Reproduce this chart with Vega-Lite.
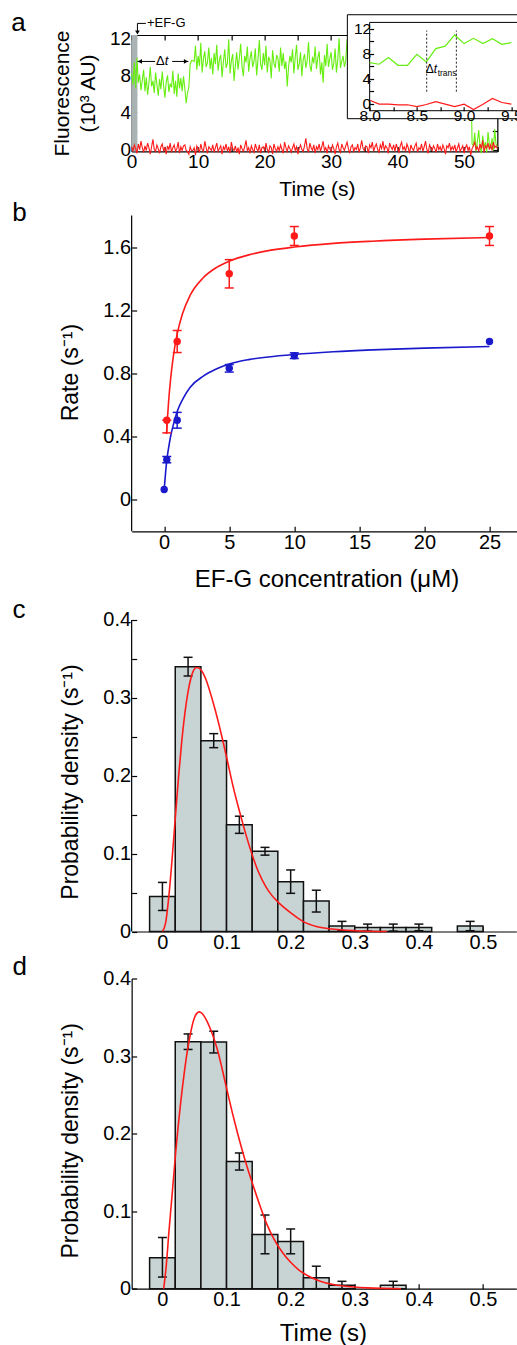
{
"$schema":"https://vega.github.io/schema/vega-lite/v6.json",
"background":"white",
"padding":{"left":10.65,"top":9,"right":0,"bottom":0},
"autosize":{"type":"pad"},
"config":{
 "font":"Liberation Sans",
 "view":{"stroke":null},
 "axis":{"grid":false,"labelFont":"Liberation Sans","titleFont":"Liberation Sans","labelColor":"black","titleColor":"black","tickColor":"black","domainColor":"black","domainWidth":1.2,"tickWidth":1.2,"tickSize":-5,"labelPadding":6,"labelFlush":false,"labelOverlap":false,"labelFontSize":20,"titleFontSize":23,"titleFontWeight":"normal","titleBaseline":"alphabetic"},
 "text":{"font":"Liberation Sans","color":"black"}
},
"datasets":{
"trace":[
{"t":0,"g":8.2,"r":0.3},{"t":0.2,"g":7,"r":-0.2},{"t":0.4,"g":9.4,"r":0.5},{"t":0.6,"g":6.6,"r":0.1},{"t":0.8,"g":9.9,"r":-0.4},{"t":1,"g":7.2,"r":0.6},{"t":1.2,"g":8.1,"r":0},{"t":1.4,"g":6.4,"r":0.9},{"t":1.6,"g":7.5,"r":0.2},{"t":1.8,"g":8.6,"r":-0.3},
{"t":2,"g":6.3,"r":0.4},{"t":2.2,"g":7.8,"r":-0.1},{"t":2.4,"g":5.9,"r":0.7},{"t":2.6,"g":7.2,"r":0.2},{"t":2.8,"g":8.9,"r":-0.5},{"t":3,"g":6.8,"r":0.3},{"t":3.2,"g":7.4,"r":1.1},{"t":3.4,"g":6.1,"r":0},{"t":3.6,"g":8.3,"r":-0.2},{"t":3.8,"g":7,"r":0.5},
{"t":4,"g":5.8,"r":0.1},{"t":4.2,"g":7.6,"r":-0.4},{"t":4.4,"g":6.5,"r":0.3},{"t":4.6,"g":8.4,"r":0.6},{"t":4.8,"g":6.9,"r":-0.1},{"t":5,"g":5.6,"r":0.2},{"t":5.2,"g":7.3,"r":-0.5},{"t":5.4,"g":8,"r":0.4},{"t":5.6,"g":6.2,"r":0},{"t":5.8,"g":7.1,"r":0.7},
{"t":6,"g":6.7,"r":-0.3},{"t":6.2,"g":8.5,"r":0.2},{"t":6.4,"g":6,"r":0.5},{"t":6.6,"g":7.4,"r":-0.2},{"t":6.8,"g":5.7,"r":0.1},{"t":7,"g":8.2,"r":0.8},{"t":7.2,"g":6.6,"r":-0.4},{"t":7.4,"g":7.7,"r":0.3},{"t":7.6,"g":6.3,"r":-0.1},{"t":7.8,"g":7.9,"r":0.4},
{"t":8,"g":6.6,"r":0.5},{"t":8.2,"g":5,"r":-0.1},{"t":8.4,"g":6.1,"r":-0.2},{"t":8.6,"g":6.7,"r":-0.5},{"t":8.8,"g":9.2,"r":0.3},{"t":9,"g":9.6,"r":-0.1},{"t":9.2,"g":9.6,"r":-0.1},{"t":9.4,"g":9.5,"r":0.2},{"t":9.6,"g":11.2,"r":-0.6},{"t":9.8,"g":8.6,"r":0.4},
{"t":10,"g":10.1,"r":0.1},{"t":10.2,"g":9,"r":-0.3},{"t":10.4,"g":11.5,"r":0.6},{"t":10.6,"g":8.3,"r":0},{"t":10.8,"g":9.8,"r":-0.2},{"t":11,"g":10.6,"r":0.9},{"t":11.2,"g":8.9,"r":0.2},{"t":11.4,"g":9.4,"r":-0.4},{"t":11.6,"g":11,"r":0.3},{"t":11.8,"g":8.7,"r":0.1},
{"t":12,"g":9.9,"r":-0.1},{"t":12.2,"g":8.1,"r":0.5},{"t":12.4,"g":10.4,"r":-0.3},{"t":12.6,"g":9.2,"r":0.2},{"t":12.8,"g":11.3,"r":0.7},{"t":13,"g":8.5,"r":-0.2},{"t":13.2,"g":9.7,"r":0.1},{"t":13.4,"g":10.2,"r":0.4},{"t":13.6,"g":7.8,"r":-0.5},{"t":13.8,"g":9.5,"r":0.3},
{"t":14,"g":10.8,"r":0},{"t":14.2,"g":8.8,"r":0.6},{"t":14.4,"g":9.3,"r":-0.2},{"t":14.6,"g":11.9,"r":0.3},{"t":14.8,"g":8.2,"r":-0.4},{"t":15,"g":9.6,"r":0.8},{"t":15.2,"g":10.3,"r":0.1},{"t":15.4,"g":7.4,"r":-0.1},{"t":15.6,"g":9.1,"r":0.4},{"t":15.8,"g":10.5,"r":-0.3},
{"t":16,"g":8.6,"r":0.2},{"t":16.2,"g":9.9,"r":-0.5},{"t":16.4,"g":11.4,"r":0.5},{"t":16.6,"g":9,"r":0.1},{"t":16.8,"g":7.9,"r":-0.2},{"t":17,"g":10.1,"r":0.3},{"t":17.2,"g":9.4,"r":1},{"t":17.4,"g":11.1,"r":-0.1},{"t":17.6,"g":8.4,"r":0.2},{"t":17.8,"g":9.8,"r":-0.4},
{"t":18,"g":10.6,"r":0.4},{"t":18.2,"g":8.9,"r":0},{"t":18.4,"g":9.5,"r":-0.3},{"t":18.6,"g":10.9,"r":0.6},{"t":18.8,"g":8,"r":0.1},{"t":19,"g":9.7,"r":-0.2},{"t":19.2,"g":11.8,"r":0.5},{"t":19.4,"g":9.2,"r":-0.4},{"t":19.6,"g":8.6,"r":0.2},{"t":19.8,"g":10.4,"r":0.3},
{"t":20,"g":9.1,"r":-0.1},{"t":20.2,"g":11.2,"r":0.7},{"t":20.4,"g":8.3,"r":0},{"t":20.6,"g":10,"r":-0.3},{"t":20.8,"g":9.6,"r":0.4},{"t":21,"g":7.7,"r":0.2},{"t":21.2,"g":10.7,"r":-0.5},{"t":21.4,"g":9.3,"r":0.6},{"t":21.6,"g":8.8,"r":0.1},{"t":21.8,"g":10.2,"r":-0.2},
{"t":22,"g":9.8,"r":0.3},{"t":22.2,"g":8.4,"r":-0.1},{"t":22.4,"g":11,"r":0.5},{"t":22.6,"g":9,"r":0},{"t":22.8,"g":10.4,"r":-0.4},{"t":23,"g":8.7,"r":0.8},{"t":23.2,"g":9.5,"r":0.2},{"t":23.4,"g":6.8,"r":-0.2},{"t":23.6,"g":8.9,"r":0.4},{"t":23.8,"g":10.1,"r":0.1},
{"t":24,"g":9.4,"r":-0.3},{"t":24.2,"g":10.8,"r":0.2},{"t":24.4,"g":8.2,"r":0.6},{"t":24.6,"g":9.9,"r":-0.1},{"t":24.8,"g":11.3,"r":0.3},{"t":25,"g":8.6,"r":-0.5},{"t":25.2,"g":9.2,"r":0.1},{"t":25.4,"g":10.5,"r":0.5},{"t":25.6,"g":7.9,"r":0},{"t":25.8,"g":9.7,"r":-0.2},
{"t":26,"g":10.3,"r":0.4},{"t":26.2,"g":8.8,"r":1.2},{"t":26.4,"g":9.6,"r":0.1},{"t":26.6,"g":11.6,"r":-0.3},{"t":26.8,"g":9.1,"r":0.7},{"t":27,"g":8.4,"r":0.2},{"t":27.2,"g":10,"r":-0.1},{"t":27.4,"g":9.3,"r":0.5},{"t":27.6,"g":11.1,"r":-0.4},{"t":27.8,"g":8.7,"r":0.3},
{"t":28,"g":9.9,"r":0},{"t":28.2,"g":10.6,"r":0.6},{"t":28.4,"g":8.1,"r":-0.2},{"t":28.6,"g":9.4,"r":0.3},{"t":28.8,"g":7.2,"r":0.9},{"t":29,"g":10.2,"r":-0.1},{"t":29.2,"g":9,"r":0.2},{"t":29.4,"g":11.4,"r":-0.4},{"t":29.6,"g":8.9,"r":0.4},{"t":29.8,"g":9.8,"r":0.1},
{"t":30,"g":10.5,"r":-0.2},{"t":30.2,"g":8.6,"r":0.5},{"t":30.4,"g":9.3,"r":0.1},{"t":30.6,"g":10.9,"r":-0.5},{"t":30.8,"g":8.3,"r":0.3},{"t":31,"g":9.7,"r":0.7},{"t":31.2,"g":12,"r":0},{"t":31.4,"g":8.8,"r":-0.3},{"t":31.6,"g":9.5,"r":0.6},{"t":31.8,"g":10.1,"r":0.2},
{"t":32,"g":8.9,"r":-0.1},{"t":32.2,"g":9.6,"r":0.4},{"t":32.4,"g":11.9,"r":0.8},{"t":32.6,"g":8.4,"r":0.1},{"t":32.8,"g":10.3,"r":-0.4},{"t":33,"g":9.2,"r":0.3},{"t":33.2,"g":8.7,"r":0.5},{"t":33.4,"g":10.6,"r":-0.2},{"t":33.6,"g":9.4,"r":0.2},{"t":33.8,"g":9,"r":0},
{"t":34,"g":9.7,"r":0.6},{"t":34.2,"g":10.4,"r":-0.3},{"t":34.4,"g":8.5,"r":0.2},{"t":34.6,"g":9.1,"r":1},{"t":34.8,"g":11,"r":0.1},{"t":35,"g":8.8,"r":-0.1},{"t":35.2,"g":9.6,"r":0.4},{"t":35.4,"g":10.2,"r":0.3},{"t":35.6,"g":8.3,"r":-0.4},{"t":35.8,"g":9.9,"r":0.5},
{"t":36,"g":10.7,"r":0.2},{"t":36.2,"g":9,"r":0.8},{"t":36.4,"g":8.6,"r":-0.2},{"t":36.6,"g":10.1,"r":0.3},{"t":36.8,"g":9.4,"r":0.6},{"t":37,"g":11.2,"r":0},{"t":37.2,"g":8.9,"r":-0.3},{"t":37.4,"g":9.5,"r":0.5},{"t":37.6,"g":10.3,"r":0.1},{"t":37.8,"g":8.2,"r":0.9},
{"t":38,"g":9.8,"r":-0.1},{"t":38.2,"g":10.9,"r":0.4},{"t":38.4,"g":8.7,"r":0.2},{"t":38.6,"g":9.3,"r":-0.4},{"t":38.8,"g":10.5,"r":0.7},{"t":39,"g":8.4,"r":0.3},{"t":39.2,"g":9.9,"r":0},{"t":39.4,"g":11.1,"r":0.5},{"t":39.6,"g":9.2,"r":-0.2},{"t":39.8,"g":8.8,"r":0.6},
{"t":40,"g":10.2,"r":0.1},{"t":40.2,"g":9.5,"r":-0.3},{"t":40.4,"g":8.1,"r":0.4},{"t":40.6,"g":10.8,"r":0.8},{"t":40.8,"g":9,"r":0},{"t":41,"g":9.7,"r":0.3},{"t":41.2,"g":11.3,"r":-0.2},{"t":41.4,"g":8.6,"r":0.6},{"t":41.6,"g":9.4,"r":0.2},{"t":41.8,"g":10,"r":-0.4},
{"t":42,"g":8.9,"r":0.5},{"t":42.2,"g":10.6,"r":0.1},{"t":42.4,"g":9.3,"r":-0.1},{"t":42.6,"g":8.5,"r":0.4},{"t":42.8,"g":10.1,"r":0.7},{"t":43,"g":9.8,"r":-0.3},{"t":43.2,"g":11.5,"r":0.2},{"t":43.4,"g":8.7,"r":0},{"t":43.6,"g":9.2,"r":0.6},{"t":43.8,"g":10.4,"r":-0.2},
{"t":44,"g":9.6,"r":0.3},{"t":44.2,"g":8.3,"r":0.9},{"t":44.4,"g":10.7,"r":0},{"t":44.6,"g":9.1,"r":-0.4},{"t":44.8,"g":9.9,"r":0.5},{"t":45,"g":11,"r":0.2},{"t":45.2,"g":8.8,"r":-0.1},{"t":45.4,"g":9.4,"r":0.4},{"t":45.6,"g":10.3,"r":0.1},{"t":45.8,"g":8.6,"r":-0.3},
{"t":46,"g":10,"r":0.6},{"t":46.2,"g":9.2,"r":0},{"t":46.4,"g":11.4,"r":0.3},{"t":46.6,"g":8.4,"r":-0.2},{"t":46.8,"g":9.7,"r":0.5},{"t":47,"g":10.5,"r":0.1},{"t":47.2,"g":9,"r":-0.5},{"t":47.4,"g":8.7,"r":0.4},{"t":47.6,"g":10.9,"r":0.2},{"t":47.8,"g":9.3,"r":0.7},
{"t":48,"g":9.8,"r":-0.1},{"t":48.2,"g":10.2,"r":0.3},{"t":48.4,"g":8.5,"r":0},{"t":48.6,"g":9.6,"r":0.5},{"t":48.8,"g":11.1,"r":-0.3},{"t":49,"g":8.9,"r":0.2},{"t":49.2,"g":9.4,"r":0.6},{"t":49.4,"g":10.6,"r":-0.2},{"t":49.6,"g":9.1,"r":0.1},{"t":49.8,"g":8.8,"r":0.4},
{"t":50,"g":10.3,"r":-0.4},{"t":50.2,"g":9.5,"r":0.2},{"t":50.4,"g":8.7,"r":0.5},{"t":50.6,"g":10.1,"r":-0.1},{"t":50.8,"g":9.2,"r":0.3},{"t":51,"g":9.8,"r":-0.6},{"t":51.2,"g":0.6,"r":0.1},{"t":51.4,"g":0.4,"r":0.4},{"t":51.6,"g":1.8,"r":0.8},{"t":51.8,"g":-0.2,"r":0},
{"t":52,"g":0.9,"r":0.3},{"t":52.2,"g":2.1,"r":-0.2},{"t":52.4,"g":0.3,"r":0.6},{"t":52.6,"g":-0.4,"r":0.1},{"t":52.8,"g":1.5,"r":1},{"t":53,"g":0.2,"r":-0.3},{"t":53.2,"g":0.8,"r":0.4},{"t":53.4,"g":-0.3,"r":0.2},{"t":53.6,"g":1.9,"r":0.7},{"t":53.8,"g":0.5,"r":0},
{"t":54,"g":0.1,"r":0.5},{"t":54.2,"g":1.2,"r":-0.1},{"t":54.4,"g":-0.1,"r":0.8},{"t":54.6,"g":2.2,"r":0.2},{"t":54.8,"g":0.6,"r":0.4},{"t":55,"g":0.3,"r":0.1}
],
"inset":[
{"t":8,"g":6.56,"r":0.53},{"t":8.1,"g":6.3,"r":-0.1},{"t":8.2,"g":7.36,"r":-0.1},{"t":8.3,"g":6.13,"r":-0.2},{"t":8.4,"g":6.13,"r":-0.2},{"t":8.5,"g":7.9,"r":-0.5},{"t":8.6,"g":6.67,"r":-0.15},{"t":8.7,"g":8.8,"r":0.3},{"t":8.8,"g":9.2,"r":-0.1},{"t":8.9,"g":10.99,"r":-0.5},{"t":9,"g":9.6,"r":-0.1},{"t":9.1,"g":10.45,"r":-0.96},{"t":9.2,"g":9.6,"r":-0.1},{"t":9.3,"g":10.4,"r":0.8},{"t":9.4,"g":9.5,"r":0.16},{"t":9.5,"g":9.76,"r":-0.1}
],
"bfit":[
{"s":"red","x":0.18,"y":0.413},{"s":"red","x":0.25,"y":0.511},{"s":"red","x":0.35,"y":0.629},{"s":"red","x":0.5,"y":0.767},{"s":"red","x":0.7,"y":0.904},{"s":"red","x":1,"y":1.048},{"s":"red","x":1.4,"y":1.175},{"s":"red","x":2,"y":1.294},{"s":"red","x":3,"y":1.405},{"s":"red","x":4,"y":1.469},{"s":"red","x":5,"y":1.51},{"s":"red","x":6.5,"y":1.55},{"s":"red","x":8,"y":1.577},{"s":"red","x":10,"y":1.6},{"s":"red","x":13,"y":1.623},{"s":"red","x":16,"y":1.637},{"s":"red","x":20,"y":1.65},{"s":"red","x":25,"y":1.66},
{"s":"blue","x":0,"y":0.06},{"s":"blue","x":0.1,"y":0.16},{"s":"blue","x":0.2,"y":0.245},{"s":"blue","x":0.35,"y":0.33},{"s":"blue","x":0.5,"y":0.4},{"s":"blue","x":0.7,"y":0.47},{"s":"blue","x":1,"y":0.555},{"s":"blue","x":1.4,"y":0.63},{"s":"blue","x":2,"y":0.71},{"s":"blue","x":3,"y":0.78},{"s":"blue","x":4,"y":0.825},{"s":"blue","x":5,"y":0.857},{"s":"blue","x":6.5,"y":0.885},{"s":"blue","x":8,"y":0.902},{"s":"blue","x":10,"y":0.918},{"s":"blue","x":13,"y":0.935},{"s":"blue","x":16,"y":0.947},{"s":"blue","x":20,"y":0.958},{"s":"blue","x":25,"y":0.968}
],
"bpts":[
{"s":"red","x":0.2,"y":0.5,"lo":0.42,"hi":0.5},{"s":"red","x":1,"y":1.0,"lo":0.93,"hi":1.07},{"s":"red","x":5,"y":1.43,"lo":1.34,"hi":1.52},{"s":"red","x":10,"y":1.67,"lo":1.61,"hi":1.73},{"s":"red","x":25,"y":1.67,"lo":1.61,"hi":1.73},
{"s":"blue","x":0,"y":0.06},{"s":"blue","x":0.2,"y":0.25,"lo":0.23,"hi":0.27},{"s":"blue","x":1,"y":0.5,"lo":0.45,"hi":0.55},{"s":"blue","x":5,"y":0.83,"lo":0.806,"hi":0.854},{"s":"blue","x":10,"y":0.91,"lo":0.892,"hi":0.928},{"s":"blue","x":25,"y":1.0}
],
"hc":[
{"b0":-0.02,"b1":0.02,"c":0,"p":0.045,"lo":0.027,"hi":0.063},{"b0":0.02,"b1":0.06,"c":0.04,"p":0.34,"lo":0.328,"hi":0.352},{"b0":0.06,"b1":0.1,"c":0.08,"p":0.245,"lo":0.236,"hi":0.254},{"b0":0.1,"b1":0.14,"c":0.12,"p":0.137,"lo":0.126,"hi":0.148},{"b0":0.14,"b1":0.18,"c":0.16,"p":0.103,"lo":0.098,"hi":0.108},{"b0":0.18,"b1":0.22,"c":0.2,"p":0.064,"lo":0.049,"hi":0.079},{"b0":0.22,"b1":0.26,"c":0.24,"p":0.039,"lo":0.025,"hi":0.053},{"b0":0.26,"b1":0.3,"c":0.28,"p":0.007,"lo":0.001,"hi":0.013},{"b0":0.3,"b1":0.34,"c":0.32,"p":0.005,"lo":0.0005,"hi":0.0095},{"b0":0.34,"b1":0.38,"c":0.36,"p":0.005,"lo":0.0005,"hi":0.0095},{"b0":0.38,"b1":0.42,"c":0.4,"p":0.005,"lo":0.001,"hi":0.0095},{"b0":0.46,"b1":0.5,"c":0.48,"p":0.007,"lo":0.001,"hi":0.013}
],
"hd":[
{"b0":-0.02,"b1":0.02,"c":0,"p":0.04,"lo":0.015,"hi":0.066},{"b0":0.02,"b1":0.06,"c":0.04,"p":0.3185,"lo":0.3085,"hi":0.3285},{"b0":0.06,"b1":0.1,"c":0.08,"p":0.318,"lo":0.304,"hi":0.332},{"b0":0.1,"b1":0.14,"c":0.12,"p":0.164,"lo":0.153,"hi":0.175},{"b0":0.14,"b1":0.18,"c":0.16,"p":0.07,"lo":0.045,"hi":0.095},{"b0":0.18,"b1":0.22,"c":0.2,"p":0.061,"lo":0.045,"hi":0.077},{"b0":0.22,"b1":0.26,"c":0.24,"p":0.014,"lo":0,"hi":0.029},{"b0":0.26,"b1":0.3,"c":0.28,"p":0.0043,"lo":0,"hi":0.0095},{"b0":0.34,"b1":0.38,"c":0.36,"p":0.0043,"lo":0,"hi":0.0095}
],
"cfit":[
{"x":0,"y":0},{"x":0.005,"y":0.011},{"x":0.01,"y":0.045},{"x":0.015,"y":0.092},{"x":0.02,"y":0.145},{"x":0.025,"y":0.197},{"x":0.03,"y":0.243},{"x":0.035,"y":0.28},{"x":0.04,"y":0.308},{"x":0.045,"y":0.327},{"x":0.05,"y":0.337},{"x":0.054,"y":0.339},{"x":0.06,"y":0.336},{"x":0.0686,"y":0.322},{"x":0.077,"y":0.3},{"x":0.089,"y":0.263},{"x":0.0956,"y":0.24},{"x":0.1024,"y":0.215},{"x":0.11,"y":0.187},{"x":0.1206,"y":0.153},{"x":0.13,"y":0.125},{"x":0.1414,"y":0.095},{"x":0.15,"y":0.076},{"x":0.161,"y":0.058},{"x":0.17,"y":0.047},{"x":0.18,"y":0.038},{"x":0.2,"y":0.024},{"x":0.221,"y":0.012},{"x":0.24,"y":0.0065},{"x":0.261,"y":0.0035},{"x":0.3,"y":0.001},{"x":0.35,"y":0}
],
"dfit":[
{"x":0.002,"y":0},{"x":0.006,"y":0.03},{"x":0.0103,"y":0.075},{"x":0.015,"y":0.12},{"x":0.0207,"y":0.176},{"x":0.0286,"y":0.241},{"x":0.034,"y":0.278},{"x":0.039,"y":0.307},{"x":0.044,"y":0.33},{"x":0.049,"y":0.347},{"x":0.0535,"y":0.355},{"x":0.0577,"y":0.357},{"x":0.063,"y":0.354},{"x":0.07,"y":0.344},{"x":0.078,"y":0.328},{"x":0.0858,"y":0.308},{"x":0.093,"y":0.284},{"x":0.101,"y":0.255},{"x":0.109,"y":0.227},{"x":0.117,"y":0.201},{"x":0.125,"y":0.177},{"x":0.1325,"y":0.156},{"x":0.1403,"y":0.136},{"x":0.153,"y":0.105},{"x":0.163,"y":0.083},{"x":0.174,"y":0.064},{"x":0.187,"y":0.047},{"x":0.2,"y":0.034},{"x":0.213,"y":0.024},{"x":0.226,"y":0.017},{"x":0.245,"y":0.01},{"x":0.268,"y":0.005},{"x":0.295,"y":0.0025},{"x":0.32,"y":0.001},{"x":0.372,"y":0}
]
},
"vconcat":[
{
 "width":365.7,"height":116.4,
 "layer":[
  {
   "layer":[
    {"data":{"values":[{}]},"mark":{"type":"rect","color":"#a9b3b3"},
     "encoding":{"x":{"datum":0,"type":"quantitative","scale":{"domain":[0,55],"nice":false,"zero":false},"axis":null},"x2":{"datum":0.87},"y":{"datum":-0.2,"type":"quantitative","scale":{"domain":[-0.2,12.35],"nice":false,"zero":false},"axis":null},"y2":{"datum":12.35}}},
    {"data":{"name":"trace"},"mark":{"type":"line","color":"#66ee11","strokeWidth":1.1},
     "encoding":{"x":{"field":"t","type":"quantitative","scale":{"domain":[0,55],"nice":false,"zero":false},"axis":{"orient":"bottom","values":[0,5,10,15,20,25,30,35,40,45,50,55],"labelExpr":"datum.value % 10 === 0 ? datum.label : ''","title":"Time (s)","titleX":185.3,"titleY":44.3,"titleFontSize":21,"labelFontSize":19,"zindex":0}},
      "y":{"field":"g","type":"quantitative","scale":{"domain":[-0.2,12.35],"nice":false,"zero":false},"axis":{"orient":"left","values":[0,2,4,6,8,10,12],"labelExpr":"datum.value % 4 === 0 ? datum.label : ''","title":["Fluorescence","(10³ AU)"],"titleX":-62.7,"titleY":58,"titleFontSize":21,"titleLineHeight":26,"labelFontSize":19,"zindex":0}}}},
    {"data":{"name":"trace"},"mark":{"type":"line","color":"#ff1a1a","strokeWidth":1.1},
     "encoding":{"x":{"field":"t","type":"quantitative","scale":{"domain":[0,55],"nice":false,"zero":false},"axis":{"orient":"top","values":[0,5,10,15,20,25,30,35,40,45,50,55],"labels":false,"title":null,"zindex":0}},
      "y":{"field":"r","type":"quantitative","scale":{"domain":[-0.2,12.35],"nice":false,"zero":false},"axis":{"orient":"right","values":[0,2,4,6,8,10,12],"labels":false,"title":null,"zindex":0}}}},
    {"data":{"values":[{}]},"mark":{"type":"rule","color":"black","strokeWidth":1},
     "encoding":{"x":{"datum":0.87,"type":"quantitative","axis":null},"x2":{"datum":2.14},"y":{"datum":13.6,"type":"quantitative","axis":null}}},
    {"data":{"values":[{}]},"mark":{"type":"rule","color":"black","strokeWidth":1},
     "encoding":{"x":{"datum":0.87,"type":"quantitative","axis":null},"y":{"datum":13.6,"type":"quantitative","axis":null},"y2":{"datum":12.7}}},
    {"data":{"values":[{}]},"mark":{"type":"point","shape":"triangle-down","filled":true,"color":"black","size":22,"opacity":1},
     "encoding":{"x":{"datum":0.87,"type":"quantitative","axis":null},"y":{"datum":12.62,"type":"quantitative","axis":null}}},
    {"data":{"values":[{}]},"mark":{"type":"text","text":"+EF-G","fontSize":13,"align":"left","baseline":"middle"},
     "encoding":{"x":{"datum":2.3,"type":"quantitative","axis":null},"y":{"datum":13.6,"type":"quantitative","axis":null}}},
    {"data":{"values":[{}]},"mark":{"type":"rule","color":"black","strokeWidth":1},
     "encoding":{"x":{"datum":0.87,"type":"quantitative","axis":null},"x2":{"datum":3.53},"y":{"datum":9.5,"type":"quantitative","axis":null}}},
    {"data":{"values":[{}]},"mark":{"type":"rule","color":"black","strokeWidth":1},
     "encoding":{"x":{"datum":6.09,"type":"quantitative","axis":null},"x2":{"datum":8.54},"y":{"datum":9.5,"type":"quantitative","axis":null}}},
    {"data":{"values":[{}]},"mark":{"type":"point","shape":"triangle-left","filled":true,"color":"black","size":22,"opacity":1},
     "encoding":{"x":{"datum":1.25,"type":"quantitative","axis":null},"y":{"datum":9.5,"type":"quantitative","axis":null}}},
    {"data":{"values":[{}]},"mark":{"type":"point","shape":"triangle-right","filled":true,"color":"black","size":22,"opacity":1},
     "encoding":{"x":{"datum":8.16,"type":"quantitative","axis":null},"y":{"datum":9.5,"type":"quantitative","axis":null}}},
    {"data":{"values":[{}]},"mark":{"type":"text","text":"Δ","fontSize":13,"align":"right","baseline":"middle","dx":1},
     "encoding":{"x":{"datum":4.83,"type":"quantitative","axis":null},"y":{"datum":9.5,"type":"quantitative","axis":null}}},
    {"data":{"values":[{}]},"mark":{"type":"text","text":"t","fontSize":13,"fontStyle":"italic","align":"left","baseline":"middle","dx":1},
     "encoding":{"x":{"datum":4.83,"type":"quantitative","axis":null},"y":{"datum":9.5,"type":"quantitative","axis":null}}},
    {"data":{"values":[{}]},"mark":{"type":"text","text":"a","fontSize":26,"align":"left","baseline":"alphabetic"},
     "encoding":{"x":{"datum":-18.1,"type":"quantitative","axis":null},"y":{"datum":12.83,"type":"quantitative","axis":null}}}
   ],
   "resolve":{"axis":{"x":"independent","y":"independent"}}
  },
  {
   "layer":[
    {"data":{"values":[{}]},"mark":{"type":"rect","fill":"white","stroke":"black","strokeWidth":1},
     "encoding":{"x":{"datum":7.764,"type":"quantitative","scale":{"domain":[8,9.5],"range":[238,379.7],"nice":false,"zero":false},"axis":{"orient":"bottom","offset":-40.7,"values":[8,8.5,9,9.5],"format":".1f","labelOverlap":false,"labelFontSize":15.5,"labelPadding":2,"tickSize":-4,"domain":false,"title":null,"zindex":1}},"x2":{"datum":9.9},
      "y":{"datum":-2.43,"type":"quantitative","scale":{"domain":[-1.15,13],"range":[75.7,-12.6],"nice":false,"zero":false},"axis":{"orient":"left","offset":-238,"values":[0,4,8,12],"format":"d","labelOverlap":false,"labelFontSize":15.5,"labelPadding":3,"tickSize":-4,"domain":false,"title":null,"zindex":1}},"y2":{"datum":14.23}}},
    {"data":{"values":[{}]},"mark":{"type":"rect","filled":false,"color":"black","strokeWidth":1},
     "encoding":{"x":{"datum":8,"type":"quantitative","axis":{"orient":"bottom","offset":-40.7,"values":[8.25,8.75,9.25],"labels":false,"tickSize":-4,"domain":false,"title":null,"zindex":1}},"x2":{"datum":9.62},"y":{"datum":-1.15,"type":"quantitative","axis":{"orient":"left","offset":-238,"values":[2,6,10],"labels":false,"tickSize":-4,"domain":false,"title":null,"zindex":1}},"y2":{"datum":13}}},
    {"data":{"name":"inset"},"mark":{"type":"line","color":"#66ee11","strokeWidth":1.2},
     "encoding":{"x":{"field":"t","type":"quantitative","axis":null},"y":{"field":"g","type":"quantitative","axis":null}}},
    {"data":{"name":"inset"},"mark":{"type":"line","color":"#ff1a1a","strokeWidth":1.2},
     "encoding":{"x":{"field":"t","type":"quantitative","axis":null},"y":{"field":"r","type":"quantitative","axis":null}}},
    {"data":{"values":[{}]},"mark":{"type":"rule","color":"#222222","strokeWidth":1,"strokeDash":[2,2]},
     "encoding":{"x":{"datum":8.604,"type":"quantitative","axis":null},"y":{"datum":1.9,"type":"quantitative","axis":null},"y2":{"datum":11.7}}},
    {"data":{"values":[{}]},"mark":{"type":"rule","color":"#222222","strokeWidth":1,"strokeDash":[2,2]},
     "encoding":{"x":{"datum":8.918,"type":"quantitative","axis":null},"y":{"datum":1.9,"type":"quantitative","axis":null},"y2":{"datum":11.7}}},
    {"data":{"values":[{}]},"mark":{"type":"text","text":"Δ","fontSize":12,"align":"left","baseline":"alphabetic"},
     "encoding":{"x":{"datum":8.593,"type":"quantitative","axis":null},"y":{"datum":4.94,"type":"quantitative","axis":null}}},
    {"data":{"values":[{}]},"mark":{"type":"text","text":"t","fontSize":12,"fontStyle":"italic","align":"left","baseline":"alphabetic","dx":8},
     "encoding":{"x":{"datum":8.593,"type":"quantitative","axis":null},"y":{"datum":4.94,"type":"quantitative","axis":null}}},
    {"data":{"values":[{}]},"mark":{"type":"text","text":"trans","fontSize":8.5,"align":"left","baseline":"alphabetic"},
     "encoding":{"x":{"datum":8.72,"type":"quantitative","axis":null},"y":{"datum":4.46,"type":"quantitative","axis":null}}}
   ],
   "resolve":{"axis":{"x":"independent","y":"independent"}}
  }
 ],
 "resolve":{"scale":{"x":"independent","y":"independent"},"axis":{"x":"independent","y":"independent"}}
},
{
 "width":386.5,"height":332.8,
 "layer":[
  {"data":{"values":[{}]},"mark":{"type":"rule","color":"black","strokeWidth":1.2},
   "encoding":{"x":{"datum":-2.5,"type":"quantitative","scale":{"domain":[-2.5,27.2],"nice":false,"zero":false}},"y":{"datum":-0.205,"type":"quantitative","scale":{"domain":[-0.205,1.908],"nice":false,"zero":false}},"y2":{"datum":1.8}}},
  {"data":{"name":"bfit"},"mark":{"type":"line","strokeWidth":1.6,"interpolate":"monotone"},
   "encoding":{"x":{"field":"x","type":"quantitative","scale":{"domain":[-2.5,27.2],"nice":false,"zero":false},"axis":{"orient":"bottom","values":[0,2.5,5,7.5,10,12.5,15,17.5,20,22.5,25],"labelExpr":"datum.value % 5 === 0 ? datum.label : ''","title":"EF-G concentration (μM)","titleX":194.8,"titleY":55,"titleFontSize":24}},
    "y":{"field":"y","type":"quantitative","scale":{"domain":[-0.205,1.908],"nice":false,"zero":false},"axis":{"orient":"left","domain":false,"values":[0,0.2,0.4,0.6,0.8,1,1.2,1.4,1.6,1.8],"labelExpr":"abs(datum.value/0.4 - round(datum.value/0.4)) < 0.001 ? (datum.value === 0 ? '0' : format(datum.value, '.1f')) : ''","title":"Rate (s⁻¹)","titleX":-53.7,"titleY":173.6}},
    "color":{"field":"s","type":"nominal","scale":{"domain":["red","blue"],"range":["#ff1a1a","#1a1acc"]},"legend":null}}},
  {"data":{"name":"bpts"},"transform":[{"filter":"isValid(datum.lo)"}],"mark":{"type":"rule","strokeWidth":1.5},
   "encoding":{"x":{"field":"x","type":"quantitative"},"y":{"field":"lo","type":"quantitative"},"y2":{"field":"hi"},"color":{"field":"s","type":"nominal","scale":{"domain":["red","blue"],"range":["#ff1a1a","#1a1acc"]},"legend":null}}},
  {"data":{"name":"bpts"},"transform":[{"filter":"isValid(datum.lo)"}],"mark":{"type":"tick","orient":"horizontal","size":9,"thickness":1.5,"opacity":1},
   "encoding":{"x":{"field":"x","type":"quantitative"},"y":{"field":"lo","type":"quantitative"},"color":{"field":"s","type":"nominal","scale":{"domain":["red","blue"],"range":["#ff1a1a","#1a1acc"]},"legend":null}}},
  {"data":{"name":"bpts"},"transform":[{"filter":"isValid(datum.hi)"}],"mark":{"type":"tick","orient":"horizontal","size":9,"thickness":1.5,"opacity":1},
   "encoding":{"x":{"field":"x","type":"quantitative"},"y":{"field":"hi","type":"quantitative"},"color":{"field":"s","type":"nominal","scale":{"domain":["red","blue"],"range":["#ff1a1a","#1a1acc"]},"legend":null}}},
  {"data":{"name":"bpts"},"mark":{"type":"circle","size":55,"opacity":1},
   "encoding":{"x":{"field":"x","type":"quantitative"},"y":{"field":"y","type":"quantitative"},"color":{"field":"s","type":"nominal","scale":{"domain":["red","blue"],"range":["#ff1a1a","#1a1acc"]},"legend":null}}},
  {"data":{"values":[{}]},"mark":{"type":"text","text":"b","fontSize":26,"align":"left","baseline":"alphabetic"},
   "encoding":{"x":{"datum":-11.67,"type":"quantitative"},"y":{"datum":1.763,"type":"quantitative"}}}
 ]
},
{
 "width":384.7,"height":353.5,
 "layer":[
  {"data":{"values":[{}]},"mark":{"type":"rule","color":"black","strokeWidth":1.2},
   "encoding":{"x":{"datum":-0.048,"type":"quantitative","scale":{"domain":[-0.048,0.552],"nice":false,"zero":false}},"y":{"datum":0,"type":"quantitative","scale":{"domain":[0,0.4538],"nice":false,"zero":false}},"y2":{"datum":0.4}}},
  {"data":{"name":"hc"},"mark":{"type":"rect","fill":"#c8d3d3","stroke":"#111111","strokeWidth":1.5},
   "encoding":{"x":{"field":"b0","type":"quantitative","scale":{"domain":[-0.048,0.552],"nice":false,"zero":false},"axis":{"orient":"bottom","values":[0,0.05,0.1,0.15,0.2,0.25,0.3,0.35,0.4,0.45,0.5],"labelExpr":"abs(datum.value*10 - round(datum.value*10)) < 0.001 ? (datum.value === 0 ? '0' : format(datum.value, '.1f')) : ''","title":null}},"x2":{"field":"b1"},
    "y":{"field":"p","type":"quantitative","scale":{"domain":[0,0.4538],"nice":false,"zero":false},"axis":{"orient":"left","domain":false,"values":[0,0.05,0.1,0.15,0.2,0.25,0.3,0.35,0.4],"labelExpr":"abs(datum.value*10 - round(datum.value*10)) < 0.001 ? (datum.value === 0 ? '0' : format(datum.value, '.1f')) : ''","title":"Probability density (s⁻¹)","titleX":-53.7,"titleY":203.5}},"y2":{"datum":0}}},
  {"data":{"name":"hc"},"mark":{"type":"rule","color":"#111111","strokeWidth":1.5},
   "encoding":{"x":{"field":"c","type":"quantitative"},"y":{"field":"lo","type":"quantitative"},"y2":{"field":"hi"}}},
  {"data":{"name":"hc"},"mark":{"type":"tick","orient":"horizontal","size":9,"thickness":1.5,"color":"#111111","opacity":1},
   "encoding":{"x":{"field":"c","type":"quantitative"},"y":{"field":"lo","type":"quantitative"}}},
  {"data":{"name":"hc"},"mark":{"type":"tick","orient":"horizontal","size":9,"thickness":1.5,"color":"#111111","opacity":1},
   "encoding":{"x":{"field":"c","type":"quantitative"},"y":{"field":"hi","type":"quantitative"}}},
  {"data":{"name":"cfit"},"mark":{"type":"line","color":"#ff1a1a","strokeWidth":1.6,"interpolate":"monotone"},
   "encoding":{"x":{"field":"x","type":"quantitative"},"y":{"field":"y","type":"quantitative"}}},
  {"data":{"values":[{}]},"mark":{"type":"text","text":"c","fontSize":26,"align":"left","baseline":"alphabetic"},
   "encoding":{"x":{"datum":-0.234,"type":"quantitative"},"y":{"datum":0.4025,"type":"quantitative"}}}
 ]
},
{
 "width":384.7,"height":310.2,
 "layer":[
  {"data":{"name":"hd"},"mark":{"type":"rect","fill":"#c8d3d3","stroke":"#111111","strokeWidth":1.5},
   "encoding":{"x":{"field":"b0","type":"quantitative","scale":{"domain":[-0.048,0.552],"nice":false,"zero":false},"axis":{"orient":"bottom","values":[0,0.05,0.1,0.15,0.2,0.25,0.3,0.35,0.4,0.45,0.5],"labelExpr":"abs(datum.value*10 - round(datum.value*10)) < 0.001 ? (datum.value === 0 ? '0' : format(datum.value, '.1f')) : ''","title":"Time (s)","titleX":191.2,"titleY":51.6,"titleFontSize":24}},"x2":{"field":"b1"},
    "y":{"field":"p","type":"quantitative","scale":{"domain":[0,0.4],"nice":false,"zero":false},"axis":{"orient":"left","values":[0,0.05,0.1,0.15,0.2,0.25,0.3,0.35,0.4],"labelExpr":"abs(datum.value*10 - round(datum.value*10)) < 0.001 ? (datum.value === 0 ? '0' : format(datum.value, '.1f')) : ''","title":"Probability density (s⁻¹)","titleX":-53.7,"titleY":161.8}},"y2":{"datum":0}}},
  {"data":{"name":"hd"},"mark":{"type":"rule","color":"#111111","strokeWidth":1.5},
   "encoding":{"x":{"field":"c","type":"quantitative"},"y":{"field":"lo","type":"quantitative"},"y2":{"field":"hi"}}},
  {"data":{"name":"hd"},"mark":{"type":"tick","orient":"horizontal","size":9,"thickness":1.5,"color":"#111111","opacity":1},
   "encoding":{"x":{"field":"c","type":"quantitative"},"y":{"field":"lo","type":"quantitative"}}},
  {"data":{"name":"hd"},"mark":{"type":"tick","orient":"horizontal","size":9,"thickness":1.5,"color":"#111111","opacity":1},
   "encoding":{"x":{"field":"c","type":"quantitative"},"y":{"field":"hi","type":"quantitative"}}},
  {"data":{"name":"dfit"},"mark":{"type":"line","color":"#ff1a1a","strokeWidth":1.6,"interpolate":"monotone"},
   "encoding":{"x":{"field":"x","type":"quantitative"},"y":{"field":"y","type":"quantitative"}}},
  {"data":{"values":[{}]},"mark":{"type":"text","text":"d","fontSize":26,"align":"left","baseline":"alphabetic"},
   "encoding":{"x":{"datum":-0.234,"type":"quantitative"},"y":{"datum":0.404,"type":"quantitative"}}}
 ]
}
],
"spacing":46.5,
"bounds":"flush"
}
